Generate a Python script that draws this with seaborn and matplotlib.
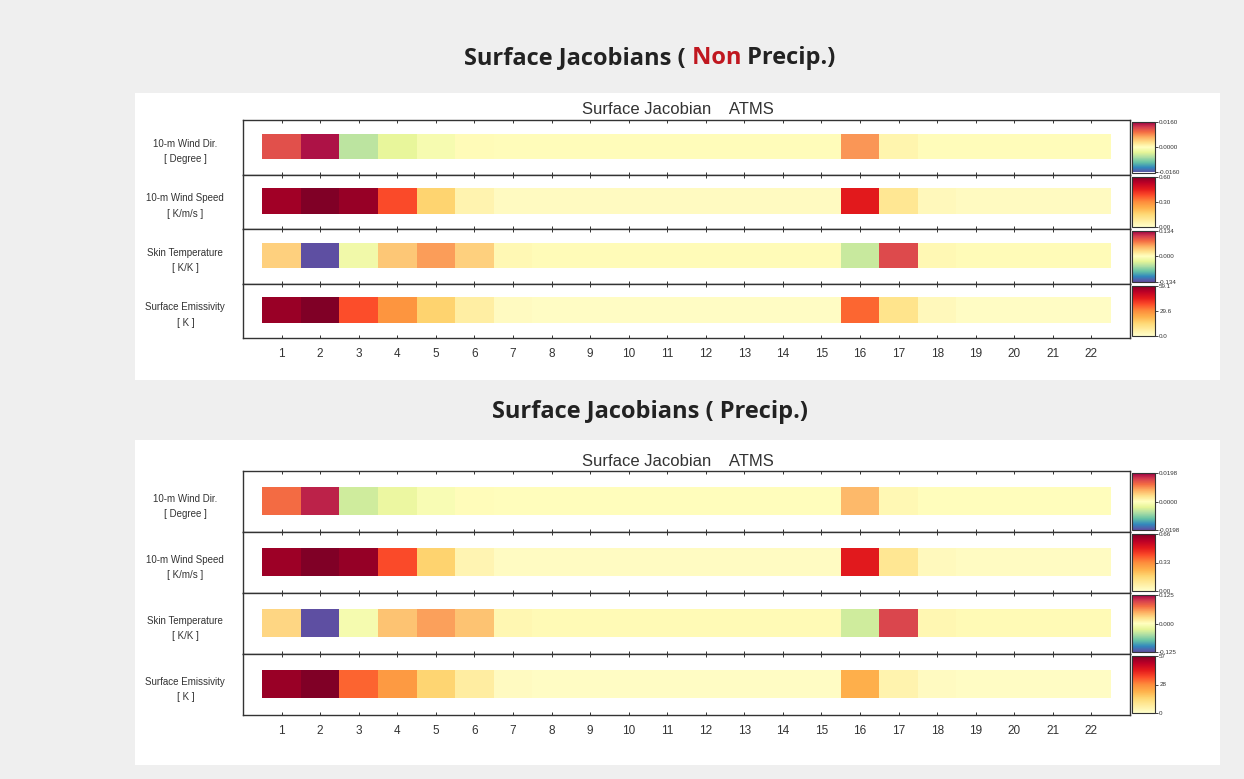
import numpy as np
import matplotlib
matplotlib.use("Agg")
import matplotlib.pyplot as plt
from matplotlib.patches import Rectangle
import seaborn as sns

# 데이터: 채널별 표면 자코비안 값
channels = list(range(1, 23))
row_labels = ["10-m Wind Dir.\n[ Degree ]", "10-m Wind Speed\n[ K/m/s ]",
              "Skin Temperature\n[ K/K ]", "Surface Emissivity\n[ K ]"]

# Non Precip.
wind_dir_np = [0.0115, 0.0150, -0.0055, -0.0030, -0.0012, 0.0004, 0.0003, 0.0003, 0.0003, 0.0003, 0.0003,
               0.0003, 0.0003, 0.0003, 0.0003, 0.0075, 0.0010, 0.0003, 0.0003, 0.0003, 0.0003, 0.0003]
wind_spd_np = [0.56, 0.60, 0.57, 0.38, 0.16, 0.05, 0.02, 0.02, 0.02, 0.02, 0.02,
               0.02, 0.02, 0.02, 0.02, 0.45, 0.10, 0.03, 0.02, 0.02, 0.02, 0.02]
skin_np = [0.035, -0.134, -0.015, 0.040, 0.060, 0.035, 0.006, 0.004, 0.004, 0.004, 0.004,
           0.004, 0.004, 0.004, 0.004, -0.040, 0.100, 0.006, 0.004, 0.004, 0.004, 0.004]
emis_np = [56, 59, 37, 28, 16, 7, 2, 1.5, 1.5, 1.5, 1.5,
           1.5, 1.5, 1.5, 1.5, 34, 11, 3, 1.5, 1.5, 1.5, 1.5]

# Precip.
wind_dir_p = [0.0120, 0.0175, -0.0055, -0.0030, -0.0012, 0.0004, 0.0003, 0.0003, 0.0003, 0.0003, 0.0003,
              0.0003, 0.0003, 0.0003, 0.0003, 0.0070, 0.0008, 0.0003, 0.0003, 0.0003, 0.0003, 0.0003]
wind_spd_p = [0.62, 0.66, 0.63, 0.42, 0.18, 0.05, 0.02, 0.02, 0.02, 0.02, 0.02,
              0.02, 0.02, 0.02, 0.02, 0.50, 0.11, 0.03, 0.02, 0.02, 0.02, 0.02]
skin_p = [0.030, -0.125, -0.010, 0.040, 0.055, 0.040, 0.006, 0.004, 0.004, 0.004, 0.004,
          0.004, 0.004, 0.004, 0.004, -0.035, 0.095, 0.006, 0.004, 0.004, 0.004, 0.004]
emis_p = [54, 57, 33, 26, 15, 7, 2, 1.5, 1.5, 1.5, 1.5,
          1.5, 1.5, 1.5, 1.5, 22, 5, 2, 1.5, 1.5, 1.5, 1.5]

lims_np = [(-0.016, 0.016), (0.0, 0.60), (-0.134, 0.134), (0.0, 59.1)]
lims_p = [(-0.0198, 0.0198), (0.0, 0.66), (-0.125, 0.125), (0.0, 57.0)]
cbar_labels_np = [["-0.0160", "0.0000", "0.0160"], ["0.00", "0.30", "0.60"],
                  ["-0.134", "0.000", "0.134"], ["0.0", "29.6", "59.1"]]
cbar_labels_p = [["-0.0198", "0.0000", "0.0198"], ["0.00", "0.33", "0.66"],
                 ["-0.125", "0.000", "0.125"], ["0", "28", "57"]]

# 컬러맵: 양/음 값은 Spectral_r, 양수만은 YlOrRd
cmaps = ["Spectral_r", "YlOrRd", "Spectral_r", "YlOrRd"]

sns.set_style("white")
plt.rcParams["font.family"] = ["Liberation Sans", "DejaVu Sans"]

W, H = 1244, 779
fig = plt.figure(figsize=(12.44, 7.79), dpi=100, facecolor="#efefef")


def fx(px):
    return px / W


def fy(py):
    return 1 - py / H


# 흰색 패널 배경
for (x0, y0, x1, y1) in [(135, 93, 1220, 380), (135, 440, 1220, 765)]:
    fig.add_artist(Rectangle((fx(x0), fy(y1)), fx(x1 - x0), (y1 - y0) / H,
                             transform=fig.transFigure, facecolor="white",
                             edgecolor="none", zorder=-10))


def draw_panel(data, lims, labels, top, bottom, sub_y):
    n = len(data)
    rh = (bottom - top) / n
    left, right = 243, 1130
    for i in range(n):
        r0 = top + i * rh
        ax = fig.add_axes([fx(left), fy(r0 + rh), fx(right - left), rh / H])
        cax = fig.add_axes([fx(1132), fy(r0 + rh - 2), fx(23), (rh - 4) / H])
        vmin, vmax = lims[i]
        sns.heatmap(np.array([data[i]]), ax=ax, cmap=cmaps[i], vmin=vmin, vmax=vmax,
                    cbar=True, cbar_ax=cax, xticklabels=channels, yticklabels=False)
        ax.set_xlim(-0.5, 22.5)
        ax.set_ylim(1.6, -0.55)
        ax.set_xticks(np.arange(22) + 0.5)
        ax.set_xticklabels(channels, rotation=0)
        ax.tick_params(axis="x", direction="in", top=True, bottom=True, length=2.5,
                       width=0.7, color="#333333", labelsize=8.5, labelcolor="#333333",
                       pad=7, labelbottom=(i == n - 1))
        for sp in ax.spines.values():
            sp.set_visible(True)
            sp.set_color("#333333")
            sp.set_linewidth(1.0)
        ax.text(-0.065, 0.42, row_labels[i], transform=ax.transAxes, ha="center",
                va="center", fontsize=7, color="#333333", linespacing=1.7)
        cb = ax.collections[0].colorbar
        cb.set_ticks([vmin, (vmin + vmax) / 2, vmax])
        cb.set_ticklabels(labels[i])
        cb.ax.tick_params(labelsize=4.5, length=2, width=0.6, pad=1, labelcolor="#333333")
        cb.outline.set_visible(True)
        cb.outline.set_linewidth(0.8)
        cb.outline.set_edgecolor("#333333")
    fig.text(fx(678), fy(sub_y), "Surface Jacobian    ATMS", ha="center", va="center",
             fontsize=12, color="#333333")


draw_panel([wind_dir_np, wind_spd_np, skin_np, emis_np], lims_np, cbar_labels_np, 120, 338, 110)
draw_panel([wind_dir_p, wind_spd_p, skin_p, emis_p], lims_p, cbar_labels_p, 471, 715, 462)

# 큰 제목 (Non 부분은 빨간색)
title_font = dict(fontsize=17, fontweight="bold", family=["Open Sans", "DejaVu Sans"], va="center")
renderer = fig.canvas.get_renderer()
parts = [("Surface Jacobians (", "#222222"), (" Non", "#c0171f"), (" Precip.)", "#222222")]
texts = [fig.text(0, fy(58), s, color=c, ha="left", **title_font) for s, c in parts]
widths = [t.get_window_extent(renderer).width for t in texts]
x = fx(650) * fig.bbox.width - sum(widths) / 2
for t, w in zip(texts, widths):
    t.set_x(x / fig.bbox.width)
    x += w
fig.text(fx(650), fy(412), "Surface Jacobians ( Precip.)", color="#222222", ha="center", **title_font)

fig.savefig("out.png", dpi=100, facecolor=fig.get_facecolor())
